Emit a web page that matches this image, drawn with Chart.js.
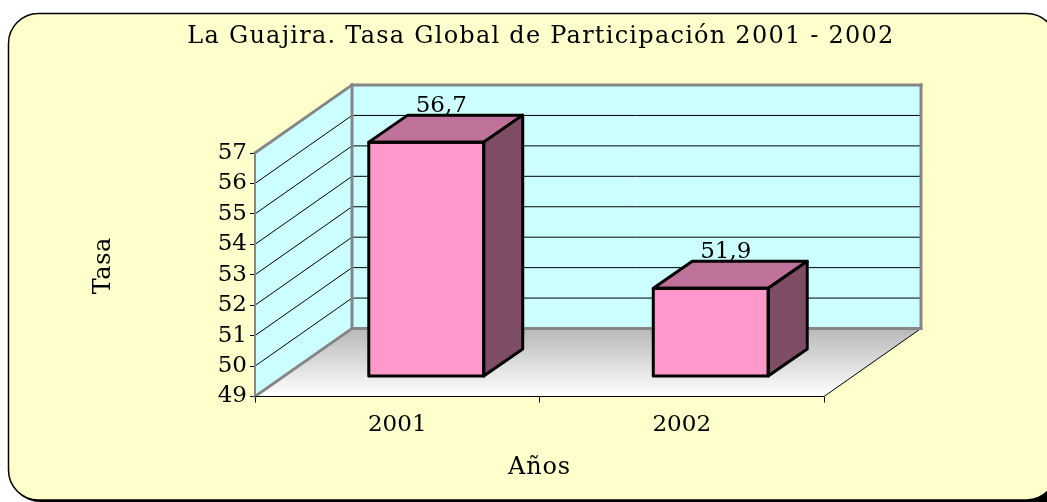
<!DOCTYPE html>
<html>
<head>
<meta charset="utf-8">
<style>
html, body { margin: 0; padding: 0; background: #fff; overflow: hidden; }
canvas { display: block; }
</style>
<script src="https://cdn.jsdelivr.net/npm/chart.js@4"></script>
</head>
<body>
<canvas id="chart" width="1047" height="502"></canvas>
<script>
const categories = ['2001', '2002'];
const tasa = [56.7, 51.9];
const dataLabels = ['56,7', '51,9'];
const titleText = 'La Guajira. Tasa Global de Participación 2001 - 2002';
const xTitle = 'Años';
const yTitle = 'Tasa';
const FONT = '"DejaVu Serif"';
const FONT_SIZE = 23;
const TITLE_SIZE = 24;

// depth of the 3d box and how far the bars sit inside it
const wallDX = 97, wallDY = -68;
const barInX = 29, barInY = -20;
const barDX = 39, barDY = -27;

function line(ctx, x1, y1, x2, y2, color, width) {
    ctx.beginPath();
    ctx.moveTo(x1, y1);
    ctx.lineTo(x2, y2);
    ctx.strokeStyle = color;
    ctx.lineWidth = width;
    ctx.stroke();
}

function poly(ctx, pts, fill, stroke, width) {
    ctx.beginPath();
    pts.forEach((p, i) => i ? ctx.lineTo(p[0], p[1]) : ctx.moveTo(p[0], p[1]));
    ctx.closePath();
    if (fill) { ctx.fillStyle = fill; ctx.fill(); }
    if (stroke) {
        ctx.strokeStyle = stroke;
        ctx.lineWidth = width;
        ctx.lineJoin = 'round';
        ctx.stroke();
    }
}

// the original font is wider than DejaVu Serif, so stretch the titles a bit
function spaceOut(obj, method, spacing, dy) {
    const original = obj[method];
    obj[method] = function(...args) {
        const c = this.ctx;
        c.save();
        c.letterSpacing = spacing + 'px';
        c.translate(0, dy);
        original.apply(this, args);
        c.restore();
    };
}

// panel behind everything, then floor and walls
const boxPlugin = {
    id: 'box',
    afterLayout(chart) {
        spaceOut(chart.titleBlock, 'draw', 1.25, 0);
        spaceOut(chart.scales.x, 'drawTitle', 0.8, 0);
        spaceOut(chart.scales.y, 'drawTitle', 0.5, -9);
    },
    beforeDraw(chart) {
        const ctx = chart.ctx;
        ctx.save();
        ctx.fillStyle = '#000';
        ctx.fillRect(1015, 475, 32, 27);
        ctx.beginPath();
        ctx.roundRect(10, 15, 1048, 487, 30);
        ctx.fill();
        ctx.beginPath();
        ctx.roundRect(8.5, 13.5, 1048, 486.5, 30);
        ctx.fillStyle = '#ffffcc';
        ctx.fill();
        ctx.strokeStyle = '#000';
        ctx.lineWidth = 1.5;
        ctx.stroke();
        ctx.restore();
    },
    beforeDatasetsDraw(chart) {
        const ctx = chart.ctx;
        const a = chart.chartArea;
        const y = chart.scales.y;
        const L = a.left, R = a.right, T = a.top, B = a.bottom;
        ctx.save();

        const floor = ctx.createLinearGradient(0, B + wallDY, 0, B);
        floor.addColorStop(0, '#b8b8b8');
        floor.addColorStop(1, '#ffffff');
        poly(ctx, [[L, B], [R, B], [R + wallDX, B + wallDY], [L + wallDX, B + wallDY]], floor);
        line(ctx, R, B, R + wallDX, B + wallDY, '#000', 1);

        // side wall and back wall
        poly(ctx, [[L, B], [L + wallDX, B + wallDY], [L + wallDX, T + wallDY], [L, T]], '#ccffff');
        poly(ctx, [[L + wallDX, B + wallDY], [R + wallDX, B + wallDY], [R + wallDX, T + wallDY], [L + wallDX, T + wallDY]], '#ccffff');

        y.ticks.forEach(t => {
            const py = y.getPixelForValue(t.value);
            if (t.value > y.min && t.value < y.max) {
                line(ctx, L, py, L + wallDX, py + wallDY, '#000', 1);
                line(ctx, L + wallDX, py + wallDY, R + wallDX, py + wallDY, '#000', 1);
            }
        });

        // grey wall edges
        ctx.lineCap = 'square';
        line(ctx, L, T, L + wallDX, T + wallDY, '#868686', 3);
        line(ctx, L + wallDX, T + wallDY, R + wallDX, T + wallDY, '#868686', 3);
        line(ctx, R + wallDX, T + wallDY, R + wallDX, B + wallDY, '#868686', 3);
        line(ctx, L + wallDX, T + wallDY, L + wallDX, B + wallDY, '#868686', 3);
        line(ctx, L + wallDX, B + wallDY, R + wallDX, B + wallDY, '#868686', 3);
        line(ctx, L, B, L + wallDX, B + wallDY, '#868686', 3);
        line(ctx, L, T, L, B, '#868686', 2);
        ctx.lineCap = 'butt';

        // axis line in front
        line(ctx, L, B, R, B, '#000', 1);
        ctx.restore();

        // bars sit inside the box, so shift the library's drawing
        ctx.save();
        ctx.translate(barInX, barInY);
    },
    afterDatasetsDraw(chart) {
        const ctx = chart.ctx;
        ctx.restore();
        ctx.save();
        chart.getDatasetMeta(0).data.forEach((bar, i) => {
            const p = bar.getProps(['x', 'y', 'base', 'width'], true);
            const l = p.x - p.width / 2 + barInX, r = p.x + p.width / 2 + barInX;
            const t = p.y + barInY, b = p.base + barInY;
            // label first, the top of the box covers its comma
            ctx.fillStyle = '#000';
            ctx.font = FONT_SIZE + 'px ' + FONT;
            ctx.textAlign = 'center';
            ctx.textBaseline = 'alphabetic';
            ctx.fillText(dataLabels[i], (l + r) / 2 + 15, t + barDY - 3);
            poly(ctx, [[l, t], [r, t], [r + barDX, t + barDY], [l + barDX, t + barDY]], '#bf7299', '#000', 3);
            poly(ctx, [[r, t], [r + barDX, t + barDY], [r + barDX, b + barDY], [r, b]], '#7f4c66', '#000', 3);
            poly(ctx, [[l, t], [r, t], [r, b], [l, b]], null, '#000', 3);
        });
        ctx.restore();
    }
};

new Chart(document.getElementById('chart').getContext('2d'), {
    type: 'bar',
    data: {
        labels: categories,
        datasets: [{
            label: yTitle,
            data: tasa,
            base: 49,
            clip: false,
            backgroundColor: '#ff99cc',
            barPercentage: 0.404,
            categoryPercentage: 1
        }]
    },
    plugins: [boxPlugin],
    options: {
        responsive: false,
        animation: false,
        layout: { padding: { left: 35, right: 0, top: 0, bottom: 0 } },
        plugins: {
            legend: { display: false },
            tooltip: { enabled: false },
            title: {
                display: true,
                text: titleText,
                color: '#000',
                font: { family: FONT, size: TITLE_SIZE, weight: 'normal' },
                padding: { top: 22, bottom: 102.2 }
            }
        },
        scales: {
            x: {
                grid: { display: true, drawOnChartArea: false, tickLength: 6, color: '#000' },
                border: { display: false },
                ticks: { color: '#000', font: { family: FONT, size: FONT_SIZE }, padding: 9, maxRotation: 0 },
                title: { display: true, text: xTitle, color: '#000', font: { family: FONT, size: TITLE_SIZE }, padding: { top: 20, bottom: 20 } },
                afterFit(scale) { scale.height = 105.5; }
            },
            y: {
                min: 49,
                max: 57,
                grid: { display: true, drawOnChartArea: false, tickLength: 5, color: '#000' },
                border: { display: false },
                ticks: { stepSize: 1, autoSkip: false, color: '#000', font: { family: FONT, size: FONT_SIZE }, padding: 3 },
                title: { display: true, text: yTitle, color: '#000', font: { family: FONT, size: TITLE_SIZE }, padding: { top: 54, bottom: 0 } },
                afterFit(scale) { scale.width = 220; }
            },
            // empty axis, only keeps the room to the right of the floor
            spacer: {
                position: 'right',
                display: true,
                grid: { display: false },
                border: { display: false },
                ticks: { display: false },
                afterFit(scale) { scale.width = 223; }
            }
        }
    }
});
</script>
</body>
</html>
